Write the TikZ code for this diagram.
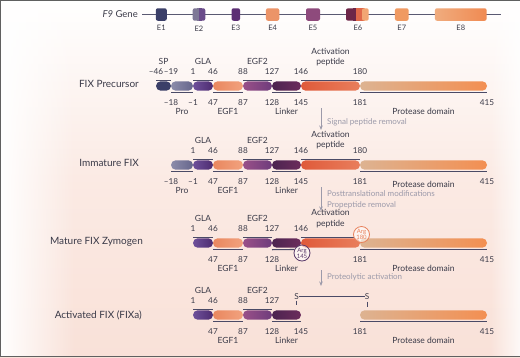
\documentclass[tikz,border=0pt]{standalone}
\usepackage{fontspec}
\setmainfont{Lato}
\usetikzlibrary{fadings,arrows.meta}
\definecolor{txt}{HTML}{3A3A48}
\definecolor{brkc}{HTML}{4A4A66}
\definecolor{gry}{HTML}{9C9AAA}
\definecolor{bgp}{HTML}{F9E1D8}
\definecolor{cSP}{HTML}{3B3F68}
\definecolor{cProL}{HTML}{8C8CAA}\definecolor{cProR}{HTML}{66668C}
\definecolor{cGLAL}{HTML}{6E509A}\definecolor{cGLAR}{HTML}{4E2C70}
\definecolor{cEAL}{HTML}{E9875F}\definecolor{cEAR}{HTML}{F2A27E}
\definecolor{cEBL}{HTML}{9A5088}\definecolor{cEBR}{HTML}{6E3C7C}
\definecolor{cLkL}{HTML}{4C2450}\definecolor{cLkR}{HTML}{6C2C5C}
\definecolor{cAPL}{HTML}{DF5A3A}\definecolor{cAPR}{HTML}{E97E5C}
\definecolor{cPrL}{HTML}{DDB391}\definecolor{cPrR}{HTML}{F38F52}
\definecolor{gline}{HTML}{5A5A72}
\definecolor{gE2a}{HTML}{7E7896}
\definecolor{gE2b}{HTML}{6A4C8A}
\definecolor{gE3}{HTML}{5C2E74}
\definecolor{gE4}{HTML}{EC9468}
\definecolor{gE5}{HTML}{8E4A7C}
\definecolor{gE6a}{HTML}{6E2648}
\definecolor{gE6b}{HTML}{E0684A}
\definecolor{gE6c}{HTML}{F2A673}
\definecolor{gE7}{HTML}{F09A62}
\definecolor{gE8L}{HTML}{F0AC7E}
\definecolor{gE8R}{HTML}{F08A52}
\definecolor{argO}{HTML}{E8805A}
\definecolor{argP}{HTML}{5A3A6A}
\tikzset{
 segbox/.style={rectangle, rounded corners=4.7pt, minimum height=9.4pt, inner sep=0pt, outer sep=0pt},
 brk/.style={draw=brkc, line width=1.1pt},
 num/.style={font=\fontsize{8.2}{9}\selectfont, text=txt, inner sep=0pt},
 lab/.style={font=\fontsize{8.5}{10}\selectfont, text=txt, inner sep=0pt},
 aplab/.style={font=\fontsize{8.5}{10.5}\selectfont, text=txt, inner sep=0pt, align=center},
 rowlab/.style={font=\fontsize{10}{12}\selectfont, text=txt, anchor=base east, inner sep=0pt},
 flowarr/.style={draw=gry, line width=0.8pt, -{Stealth[length=4.5pt,width=3.5pt]}},
 flowtxt/.style={font=\fontsize{8}{11}\selectfont, text=gry, anchor=west, align=left, inner sep=0pt},
 exon/.style={rectangle, rounded corners=2pt, minimum height=12.5pt, inner sep=0pt},
 exlab/.style={font=\fontsize{7.5}{9}\selectfont, text=txt, inner sep=0pt},
 argc/.style={circle, minimum size=16pt, inner sep=0pt, line width=0.8pt, fill=white, fill opacity=0.55, text opacity=1, font=\fontsize{6}{6}\selectfont, align=center},
}
% segment: name, x1, x2, y, left colour, right colour
\newcommand{\Seg}[6]{\node[segbox,left color=#5,right color=#6,minimum width={#3-#2}] (#1) at ({(#2+#3)/2},#4) {};}
% bracket above: seg, left num, right num, label
\newcommand{\Up}[4]{%
 \draw[brk] ([yshift=1pt]#1.north west) -- ([yshift=1pt]#1.north east);
 \node[num] (#1-ul) at ([yshift=9.5pt]#1.north west) {#2};
 \node[num] (#1-ur) at ([yshift=9.5pt]#1.north east) {#3};
 \node[lab] (#1-ut) at ([yshift=19.5pt]#1.north) {#4};}
% bracket below
\newcommand{\Dn}[4]{%
 \draw[brk] ([yshift=-2pt]#1.south west) -- ([yshift=-2pt]#1.south east);
 \node[num] (#1-dl) at ([yshift=-11.5pt]#1.south west) {#2};
 \node[num] (#1-dr) at ([yshift=-11.5pt]#1.south east) {#3};
 \node[lab] (#1-dt) at ([yshift=-20.5pt]#1.south) {#4};}
\begin{document}
\begin{tikzpicture}[x=1pt,y=-1pt]
\useasboundingbox (0,0) rectangle (520,357);
% background
\shade[top color=white, bottom color=bgp, middle color=bgp!70] (0,0) rectangle (520,357);
\fill[white, path fading=east] (0,0) rectangle (75,357);
\fill[white, path fading=west, opacity=0.8] (490,0) rectangle (520,357);
\draw[gray!75!black, line width=0.9pt] (0.5,357) -- (0.5,0.5) -- (520,0.5);
\draw[gray!75!black, line width=0.9pt] (0.5,356.5) -- (520,356.5);

% ---------- F9 gene ----------
\node[font=\fontsize{9.5}{11}\selectfont, text=txt, anchor=east, inner sep=0pt] (f9) at (138,14.5) {\textit{F9} Gene};
\coordinate (gs) at (142,14.5);
\coordinate (ge) at (501,14.5);
\draw[gline, line width=1.6pt] (gs) -- (ge);
\node[exon, fill=cSP, minimum width=11pt] (ex1) at (161.3,14.5) {};
\fill[gE2a, rounded corners=2pt] (192.7,8.3) rectangle (200,20.7);
\fill[gE2a] (197,8.3) rectangle (199.5,20.7);
\fill[gE2b, rounded corners=2pt] (199,8.3) rectangle (205.3,20.7);
\fill[gE2b] (199,8.3) rectangle (202,20.7);
\node[exon, fill=gE3, minimum width=8.5pt] (ex3) at (235.8,14.5) {};
\node[exon, fill=gE4, minimum width=13.3pt] (ex4) at (272.6,14.5) {};
\node[exon, fill=gE5, minimum width=14pt] (ex5) at (313,14.5) {};
\fill[gE6a, rounded corners=2pt] (346,8.3) rectangle (357,20.7);
\fill[gE6a] (353,8.3) rectangle (357,20.7);
\fill[gE6b] (356,8.3) rectangle (364,20.7);
\fill[gE6c, rounded corners=2pt] (362,8.3) rectangle (368.7,20.7);
\fill[gE6c] (363.5,8.3) rectangle (365,20.7);
\node[exon, fill=gE7, minimum width=13.7pt] (ex7) at (401.8,14.5) {};
\node[exon, left color=gE8L, right color=gE8R, minimum width=51.7pt] (ex8) at (460.8,14.5) {};
\node[exlab] (le1) at (161.3,28.3) {E1};
\node[exlab] (le2) at (199,28.3) {E2};
\node[exlab] (le3) at (235.8,28.3) {E3};
\node[exlab] (le4) at (272.6,28.3) {E4};
\node[exlab] (le5) at (313,28.3) {E5};
\node[exlab] (le6) at (358,28.3) {E6};
\node[exlab] (le7) at (401.8,28.3) {E7};
\node[exlab] (le8) at (460.8,28.3) {E8};

% ---------- Row 1: FIX Precursor ----------
\node[rowlab] (r1) at (139,87.5) {FIX Precursor};
\Seg{aSP}{156}{171}{86}{cSP}{cSP}
\Seg{aPro}{171}{193}{86}{cProL}{cProR}
\Seg{aGLA}{193}{213}{86}{cGLAL}{cGLAR}
\Seg{aEA}{213}{243}{86}{cEAL}{cEAR}
\Seg{aEB}{243}{272}{86}{cEBL}{cEBR}
\Seg{aLk}{272}{301}{86}{cLkL}{cLkR}
\Seg{aAP}{301}{360}{86}{cAPL}{cAPR}
\Seg{aPr}{360}{487}{86}{cPrL}{cPrR}
\Up{aSP}{--46}{--19}{SP}
\Up{aGLA}{1}{46}{GLA}
\Up{aEB}{88}{127}{EGF2}
\draw[brk] ([yshift=1pt]aAP.north west) -- ([yshift=1pt]aAP.north east);
\node[num] (aAP-ul) at ([yshift=9.5pt]aAP.north west) {146};
\node[num] (aAP-ur) at ([yshift=9.5pt]aAP.north east) {180};
\node[aplab] (aAP-ut) at ([yshift=24pt]aAP.north) {Activation\\peptide};
\Dn{aPro}{--18}{--1}{Pro}
\Dn{aEA}{47}{87}{EGF1}
\Dn{aLk}{128}{145}{Linker}
\Dn{aPr}{181}{415}{Protease domain}

% arrow 1
\coordinate (a1s) at (321,108);
\coordinate (a1e) at (321,130);
\draw[flowarr] (a1s) -- (a1e);
\node[flowtxt] (t1) at (327,122.5) {Signal peptide removal};

% ---------- Row 2: Immature FIX ----------
\node[rowlab] (r2) at (139,166.5) {Immature FIX};
\Seg{bPro}{171}{193}{165}{cProL}{cProR}
\Seg{bGLA}{193}{213}{165}{cGLAL}{cGLAR}
\Seg{bEA}{213}{243}{165}{cEAL}{cEAR}
\Seg{bEB}{243}{272}{165}{cEBL}{cEBR}
\Seg{bLk}{272}{301}{165}{cLkL}{cLkR}
\Seg{bAP}{301}{360}{165}{cAPL}{cAPR}
\Seg{bPr}{360}{487}{165}{cPrL}{cPrR}
\Up{bGLA}{1}{46}{GLA}
\Up{bEB}{88}{127}{EGF2}
\draw[brk] ([yshift=1pt]bAP.north west) -- ([yshift=1pt]bAP.north east);
\node[num] (bAP-ul) at ([yshift=9.5pt]bAP.north west) {146};
\node[num] (bAP-ur) at ([yshift=9.5pt]bAP.north east) {180};
\node[aplab] (bAP-ut) at ([yshift=20pt]bAP.north) {Activation\\peptide};
\Dn{bPro}{--18}{--1}{Pro}
\Dn{bEA}{47}{87}{EGF1}
\Dn{bLk}{128}{145}{Linker}
\draw[brk] ([yshift=-2pt]bPr.south west) -- ([yshift=-2pt]bPr.south east);
\node[num] (bPr-dl) at ([yshift=-11.5pt]bPr.south west) {181};
\node[num] (bPr-dr) at ([yshift=-11.5pt]bPr.south east) {415};
\node[lab] (bPr-dt) at ([yshift=-14.5pt]bPr.south) {Protease domain};

% arrow 2
\coordinate (a2s) at (321,187);
\coordinate (a2e) at (321,211);
\draw[flowarr] (a2s) -- (a2e);
\node[flowtxt] (t2) at (327,199.5) {Posttranslational modifications\\Propeptide removal};

% ---------- Row 3: Mature FIX Zymogen ----------
\node[rowlab] (r3) at (143,244.5) {Mature FIX Zymogen};
\Seg{cGLA}{193}{213}{243}{cGLAL}{cGLAR}
\Seg{cEA}{213}{243}{243}{cEAL}{cEAR}
\Seg{cEB}{243}{272}{243}{cEBL}{cEBR}
\Seg{cLk}{272}{301}{243}{cLkL}{cLkR}
\Seg{cAP}{301}{360}{243}{cAPL}{cAPR}
\Seg{cPr}{360}{487}{243}{cPrL}{cPrR}
\Up{cGLA}{1}{46}{GLA}
\Up{cEB}{88}{127}{EGF2}
\coordinate (cAPe) at (354,237.3);
\draw[brk] ([yshift=1pt]cAP.north west) -- (cAPe);
\node[num] (cAP-ul) at ([yshift=9.5pt]cAP.north west) {146};
\node[aplab] (cAP-ut) at ([yshift=19.5pt]cAP.north) {Activation\\peptide};
\node[argc, draw=argO, text=argO] (arg180) at (361.5,234.5) {Arg\\180};
\Dn{cEA}{47}{87}{EGF1}
\coordinate (cLke) at (294.5,249.5);
\draw[brk] ([yshift=-2pt]cLk.south west) -- (cLke);
\node[num] (cLk-dl) at ([yshift=-11.5pt]cLk.south west) {128};
\node[lab] (cLk-dt) at ([yshift=-20.5pt]cLk.south) {Linker};
\node[argc, draw=argP, text=argP] (arg145) at (302,253) {Arg\\145};
\Dn{cPr}{181}{415}{Protease domain}

% arrow 3
\coordinate (a3s) at (321,270);
\coordinate (a3e) at (321,286);
\draw[flowarr] (a3s) -- (a3e);
\node[flowtxt] (t3) at (327,277) {Proteolytic activation};

% ---------- Row 4: Activated FIX (FIXa) ----------
\node[rowlab] (r4) at (142,318.5) {Activated FIX (FIXa)};
\Seg{dGLA}{193}{213}{315}{cGLAL}{cGLAR}
\Seg{dEA}{213}{243}{315}{cEAL}{cEAR}
\Seg{dEB}{243}{272}{315}{cEBL}{cEBR}
\Seg{dLk}{272}{301}{315}{cLkL}{cLkR}
\Seg{dPr}{360}{487}{315}{cPrL}{cPrR}
\Up{dGLA}{1}{46}{GLA}
\Up{dEB}{88}{127}{EGF2}
\Dn{dEA}{47}{87}{EGF1}
\Dn{dLk}{128}{145}{Linker}
\Dn{dPr}{181}{415}{Protease domain}
\node[num] (s1) at (296.5,296.5) {S};
\node[num] (s2) at (367,296.5) {S};
\draw[draw=brkc, line width=0.9pt] (s1.east) -- (s2.west);
\draw[draw=brkc, line width=0.9pt] ([yshift=-1pt]s1.south) -- ++(0,4);
\draw[draw=brkc, line width=0.9pt] ([yshift=-2pt]s2.south) -- ++(0,5);
\end{tikzpicture}
\end{document}
